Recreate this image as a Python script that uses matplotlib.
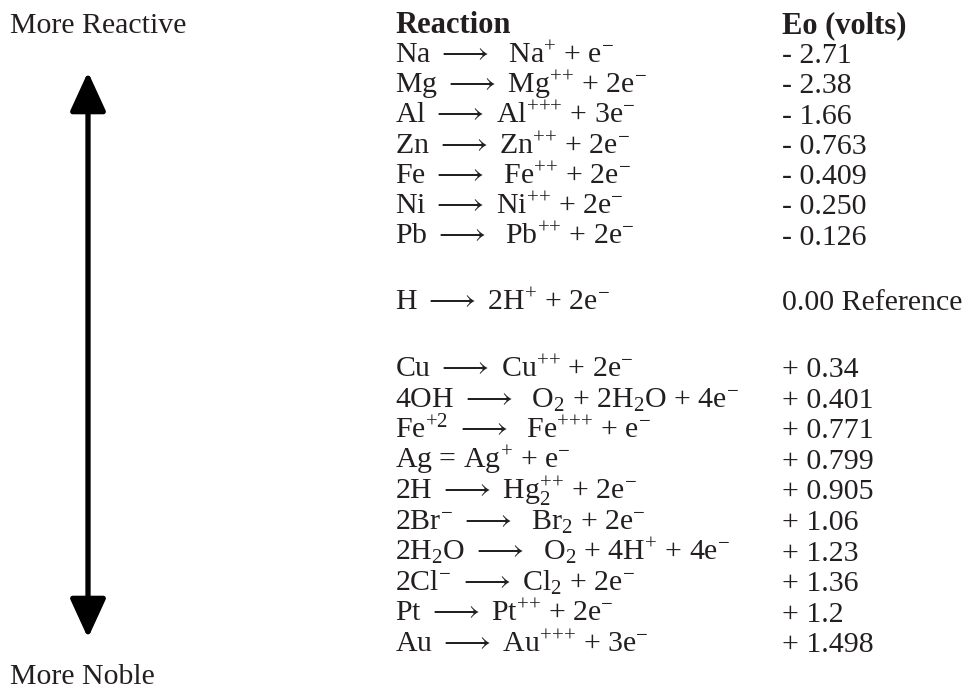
import matplotlib
matplotlib.use('Agg')
import matplotlib.pyplot as plt

plt.rcParams['font.family'] = ['Liberation Serif', 'DejaVu Serif']
plt.rcParams['mathtext.fontset'] = 'custom'
plt.rcParams['mathtext.rm'] = 'Liberation Serif'
plt.rcParams['mathtext.it'] = 'Liberation Serif'
plt.rcParams['mathtext.fallback'] = 'stix'

ARR = r'$\longrightarrow$'
P1, P2, P3 = '$^{{+}}$', '$^{{+}{+}}$', '$^{{+}{+}{+}}$'
EM = '$^{{-}}$'

# reactions, most reactive first
group_active = [
    'Na ' + ARR + '  Na' + P1 + ' + e' + EM,
    'Mg ' + ARR + ' Mg' + P2 + ' + 2e' + EM,
    'Al ' + ARR + ' Al' + P3 + ' + 3e' + EM,
    'Zn ' + ARR + ' Zn' + P2 + ' + 2e' + EM,
    'Fe ' + ARR + '  Fe' + P2 + ' + 2e' + EM,
    'Ni ' + ARR + ' Ni' + P2 + ' + 2e' + EM,
    'Pb ' + ARR + '  Pb' + P2 + ' + 2e' + EM,
]
volts_active = ['- 2.71', '- 2.38', '- 1.66', '- 0.763', '- 0.409', '- 0.250', '- 0.126']

reference_reaction = 'H ' + ARR + ' 2H' + P1 + ' + 2e' + EM
reference_volts = '0.00 Reference'

group_noble = [
    'Cu ' + ARR + ' Cu' + P2 + ' + 2e' + EM,
    '4OH ' + ARR + '  O$_{2}$ + 2H$_{2}$O + 4e' + EM,
    'Fe$^{{+}2}$ ' + ARR + '  Fe' + P3 + ' + e' + EM,
    'Ag = Ag' + P1 + ' + e' + EM,
    '2H ' + ARR + ' Hg$_{2}^{{+}{+}}$ + 2e' + EM,
    '2Br' + EM + ' ' + ARR + '  Br$_{2}$ + 2e' + EM,
    '2H$_{2}$O ' + ARR + '  O$_{2}$ + 4H' + P1 + ' + 4e' + EM,
    '2Cl' + EM + ' ' + ARR + ' Cl$_{2}$ + 2e' + EM,
    'Pt ' + ARR + ' Pt' + P2 + ' + 2e' + EM,
    'Au ' + ARR + ' Au' + P3 + ' + 3e' + EM,
]
volts_noble = ['+ 0.34', '+ 0.401', '+ 0.771', '+ 0.799', '+ 0.905',
               '+ 1.06', '+ 1.23', '+ 1.36', '+ 1.2', '+ 1.498']

ink = '#231f20'

fig = plt.figure(figsize=(9.67, 6.9), dpi=100)
ax = fig.add_axes([0, 0, 1, 1])
ax.set_xlim(0, 967)
ax.set_ylim(690, 0)
ax.axis('off')

x_rxn, x_v = 395, 782
fs = 21.5

# headers
ax.text(x_rxn, 33, 'Reaction', fontsize=22, fontweight='bold', color=ink, va='baseline')
ax.text(x_v, 33, 'Eo (volts)', fontsize=22, fontweight='bold', color=ink, va='baseline')
ax.text(10, 33, 'More Reactive', fontsize=fs, color=ink, va='baseline')
ax.text(10, 684, 'More Noble', fontsize=fs, color=ink, va='baseline')

# active metals
for i, (r, v) in enumerate(zip(group_active, volts_active)):
    y = 63 + i * 30.3
    ax.text(x_rxn, y, r, fontsize=fs, color=ink, va='baseline')
    ax.text(x_v, y, v, fontsize=fs, color=ink, va='baseline')

ax.text(x_rxn, 310, reference_reaction, fontsize=fs, color=ink, va='baseline')
ax.text(x_v, 310, reference_volts, fontsize=fs, color=ink, va='baseline')

# noble side
for i, (r, v) in enumerate(zip(group_noble, volts_noble)):
    y = 377 + i * 30.6
    ax.text(x_rxn, y, r, fontsize=fs, color=ink, va='baseline')
    ax.text(x_v, y, v, fontsize=fs, color=ink, va='baseline')

# double arrow on the left
ax.annotate('', xy=(88, 72), xytext=(88, 638),
            arrowprops=dict(arrowstyle='<|-|>,head_length=2.4,head_width=1.1',
                            mutation_scale=10, lw=3.8, color='black',
                            shrinkA=0, shrinkB=0))

fig.savefig('out.png', dpi=100)
